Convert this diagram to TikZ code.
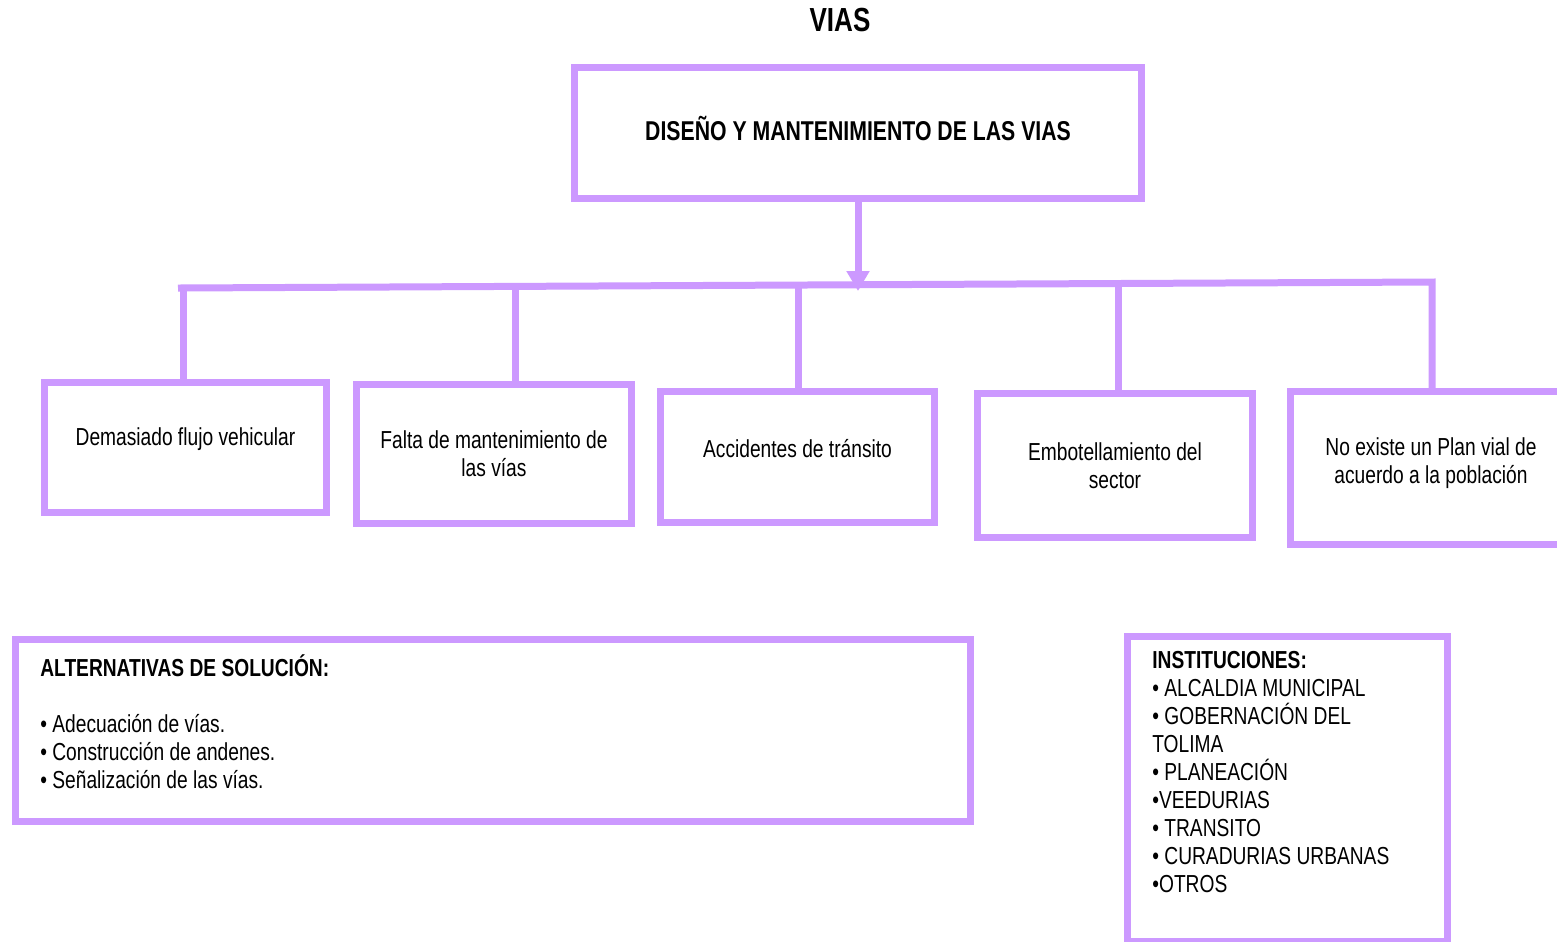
\documentclass[tikz,border=0pt]{standalone}
\usepackage{fontspec}
\setmainfont{Liberation Sans}[FakeStretch=0.78]
\usepackage{xcolor}
\usetikzlibrary{arrows.meta, positioning}
\definecolor{lila}{HTML}{CC99FF}

\begin{document}
\begin{tikzpicture}[
  x=0.02cm, y=-0.02cm,
  every node/.style={font=\fontsize{14}{15.9}\selectfont},
  box/.style={draw=lila, line width=0.14cm, align=center, inner sep=0pt},
  link/.style={draw=lila, line width=0.14cm},
  arrow/.style={link, -{Triangle[length=0.4cm, width=0.44cm]}},
  list/.style={anchor=base west, align=left, inner sep=0pt}
]
\useasboundingbox (0,0) rectangle (1557,941);
\fill[white] (0,0) rectangle (1557,941);

\node[font=\fontsize{19}{22}\selectfont\bfseries] (title) at (840,20) {VIAS};
\node[box, minimum width=11.34cm, minimum height=2.62cm, text depth=0.2cm,
  font=\fontsize{15.5}{18}\selectfont\bfseries] (main) at (858,133) {DISEÑO Y MANTENIMIENTO DE LAS VIAS};

\node[box, minimum width=5.64cm, minimum height=2.6cm, text depth=0.45cm] (box1) at (185.5,447.5) {Demasiado flujo vehicular};
\node[box, minimum width=5.5cm, minimum height=2.78cm] (box2) at (494,454) {Falta de mantenimiento de\\las vías};
\node[box, minimum width=5.48cm, minimum height=2.62cm, text depth=0.36cm] (box3) at (797.5,457) {Accidentes de tránsito};
\node[box, minimum width=5.5cm, minimum height=2.88cm] (box4) at (1115,465.5) {Embotellamiento del\\sector};
\node[box, minimum width=5.63cm, minimum height=3.06cm, text depth=0.3cm] (box5) at (1431,468) {No existe un Plan vial de\\acuerdo a la población};

% bus
\coordinate (busL) at (178,288);
\coordinate (busR) at (1432,282);
\coordinate (tip) at (858,291);
\coordinate (b1) at (183,288);
\coordinate (b2) at (515,286.4);
\coordinate (b3) at (798,285);
\coordinate (b4) at (1118,283.5);

\draw[link] (busL) -- (busR) -- (busR |- box5.north);
\draw[link] (b1) -- (b1 |- box1.north);
\draw[link] (b2) -- (b2 |- box2.north);
\draw[link] (b3) -- (b3 |- box3.north);
\draw[link] (b4) -- (b4 |- box4.north);
\draw[arrow] (main.south) -- (tip);

% bottom
\node[box, minimum width=19.1cm, minimum height=3.64cm] (alt) at (493,730.5) {};
\node[list] (altText) at (40,788) {\textbf{ALTERNATIVAS DE SOLUCIÓN:}\\[15.9pt]
  • Adecuación de vías.\\
  • Construcción de andenes.\\
  • Señalización de las vías.};

\node[box, minimum width=6.4cm, minimum height=6.11cm, anchor=north] (inst) at (1287.5,632.5) {};
\node[list] (instText) at (1152,892) {\textbf{INSTITUCIONES:}\\
  • ALCALDIA MUNICIPAL\\
  • GOBERNACIÓN DEL\\
  TOLIMA\\
  • PLANEACIÓN\\
  •VEEDURIAS\\
  • TRANSITO\\
  • CURADURIAS URBANAS\\
  •OTROS};

\end{tikzpicture}
\end{document}
